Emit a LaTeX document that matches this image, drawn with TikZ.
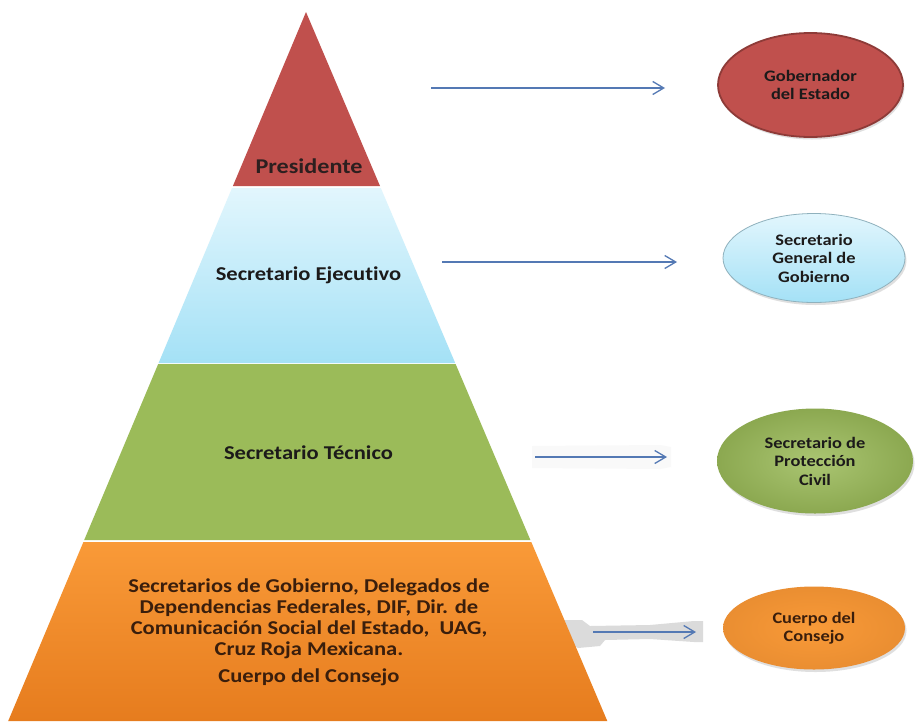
\documentclass[tikz,border=0pt]{standalone}
\usepackage{fontspec}
\setmainfont{Carlito}[FakeStretch=1.15, Ligatures={NoCommon}]
\usetikzlibrary{arrows.meta,shadows,shapes.geometric}
\definecolor{presred}{HTML}{C0504D}
\definecolor{presredline}{HTML}{8E3B38}
\definecolor{bluetop}{HTML}{E2F6FD}
\definecolor{bluebot}{HTML}{A4E1F6}
\definecolor{pyrgreen}{HTML}{9BBB59}
\definecolor{orgtop}{HTML}{F99A38}
\definecolor{orgbot}{HTML}{E67C1E}
\definecolor{arrowc}{HTML}{5479B4}
\definecolor{txtdark}{HTML}{1C1A1A}
\definecolor{txtbrown}{HTML}{3A1E0C}
\tikzset{
  lvltext/.style={anchor=base, inner sep=0pt, text=txtdark, font=\fontsize{19.6}{21}\selectfont\bfseries},
  orgtext/.style={anchor=base, inner sep=0pt, text=txtbrown, font=\fontsize{19.6}{21}\selectfont\bfseries},
  ovaltext/.style={ellipse, align=center, inner sep=0pt, text=txtdark, font=\fontsize{16}{18.5}\selectfont\bfseries},
  flowarrow/.style={draw=arrowc, line width=1.3pt, -{Straight Barb[length=11pt,width=13pt,line width=1.3pt]}},
  oshadow/.style={drop shadow={opacity=0.25, shadow xshift=1.5pt, shadow yshift=-2.5pt}}
}
\begin{document}
\begin{tikzpicture}[x=1pt,y=-1pt]
\useasboundingbox[fill=white] (0,0) rectangle (915,721);

% faint artifacts behind arrows
\fill[gray!5] (532,446) -- (660,445) -- (671,447) -- (671,467) -- (660,469) -- (532,468) -- cycle;
\fill[gray!28] (562,620) -- (582,620) -- (590,626) -- (650,625) -- (694,621) -- (703,621)
   -- (703,642) -- (694,642) -- (650,639) -- (605,640) -- (600,646) -- (578,648) -- (566,641) -- cycle;

% pyramid layers
\fill[presred] (306,12) -- (380,186) -- (232.9,186) -- cycle;
\shade[top color=bluetop, bottom color=bluebot] (232,188) -- (380.8,188) -- (455.2,363) -- (158.6,363) -- cycle;
\fill[pyrgreen] (158.2,364) -- (455.6,364) -- (530.4,540) -- (84.2,540) -- cycle;
\shade[top color=orgtop, bottom color=orgbot] (83.4,542) -- (531.3,542) -- (607.3,721) -- (8.2,721) -- cycle;

% level texts
\node[lvltext, font=\fontsize{21}{24}\selectfont\bfseries, text=txtdark!90!presred] (tpres) at (309,173) {Presidente};
\node[lvltext] (tejec) at (308.5,280.5) {Secretario Ejecutivo};
\node[lvltext] (ttec) at (308.5,459.5) {Secretario Técnico};
\node[orgtext] (o1) at (309,592) {Secretarios de Gobierno, Delegados de};
\node[orgtext] (o2) at (309,613) {Dependencias Federales, DIF, Dir. de};
\node[orgtext] (o3) at (309,634) {Comunicación Social del Estado,\ \ UAG,};
\node[orgtext] (o4) at (309,655) {Cruz Roja Mexicana.};
\node[orgtext] (o5) at (309,682.5) {Cuerpo del Consejo};

% ovals
\node[ovaltext, oshadow, fill=presred, draw=presredline, line width=1.8pt,
      minimum width=185pt, minimum height=104pt] (gob) at (810.5,85) {Gobernador\\del Estado};
\node[ovaltext, oshadow, top color=bluetop, bottom color=bluebot, draw=bluebot!70!black!80, line width=0.8pt,
      minimum width=182pt, minimum height=89pt] (sgg) at (814,258) {Secretario\\General de\\Gobierno};
\node[ovaltext, oshadow, inner color=pyrgreen!85!white, outer color=pyrgreen!90!black,
      minimum width=196pt, minimum height=105pt] (spc) at (815,461) {Secretario de\\Protección\\Civil};
\node[ovaltext, oshadow, inner color=orgtop, outer color=orgtop!85!orgbot!95!black, text=txtbrown,
      minimum width=182pt, minimum height=83pt] (cdc) at (814,628) {Cuerpo del\\Consejo};

% arrows
\coordinate (a1s) at (431,88);  \coordinate (a1e) at (665,88);
\coordinate (a2s) at (442,262); \coordinate (a2e) at (677,262);
\coordinate (a3s) at (535,457); \coordinate (a3e) at (667,457);
\coordinate (a4s) at (593,632); \coordinate (a4e) at (696,632);
\draw[flowarrow] (a1s) -- (a1e);
\draw[flowarrow] (a2s) -- (a2e);
\draw[flowarrow] (a3s) -- (a3e);
\draw[flowarrow] (a4s) -- (a4e);
\end{tikzpicture}
\end{document}
